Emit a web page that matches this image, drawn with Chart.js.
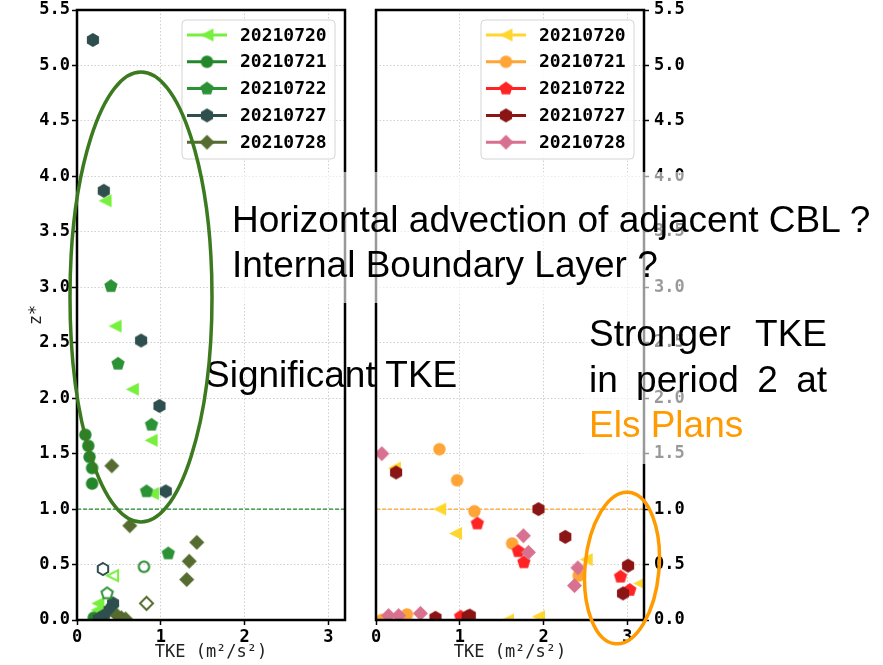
<!DOCTYPE html>
<html>
<head>
<meta charset="utf-8">
<script src="https://cdn.jsdelivr.net/npm/chart.js@4.4.0/dist/chart.umd.min.js"></script>
<style>
  body { margin: 0; background: #fff; }
  #wrap { position: relative; width: 883px; height: 665px; overflow: hidden; }
  canvas { position: absolute; top: 0; }
  #cl { left: 0; }
  #cr { left: 360px; }
  .veil { position: absolute; background: rgba(255, 255, 255, 0.6); }
  .note { position: absolute; font-family: "Liberation Sans", Arial, sans-serif; color: #000; white-space: nowrap; line-height: 1; }
  .just { text-align: justify; text-align-last: justify; width: 238px; white-space: normal; }
  svg { position: absolute; left: 0; top: 0; }
</style>
</head>
<body>
<div id="wrap">
  <canvas id="cl" width="360" height="665"></canvas>
  <canvas id="cr" width="360" height="665"></canvas>

  <div class="veil" style="left:228px;top:172px;width:655px;height:131px"></div>
  <div class="veil" style="left:583px;top:303px;width:300px;height:161px"></div>

  <div class="note" style="left:232px;top:201px;font-size:37px">Horizontal advection of adjacent CBL ?</div>
  <div class="note" style="left:232px;top:246px;font-size:37px">Internal Boundary Layer ?</div>
  <div class="note" style="left:205px;top:356px;font-size:37px">Significant TKE</div>
  <div class="note just" style="left:589px;top:315px;font-size:37px">Stronger TKE</div>
  <div class="note just" style="left:589px;top:361px;font-size:37px">in period 2 at</div>
  <div class="note" style="left:589px;top:406px;font-size:37px;color:#ff9a00">Els Plans</div>

  <svg width="883" height="665">
    <ellipse cx="141" cy="297" rx="71" ry="225" fill="none" stroke="#3c7a1f" stroke-width="3.5"/>
    <ellipse cx="622" cy="568" rx="37" ry="76" fill="none" stroke="#ff9a00" stroke-width="3.5" transform="rotate(5 622 568)"/>
  </svg>
</div>

<script>
// series names and marker kinds (same order in both panels)
const dates = ['20210720', '20210721', '20210722', '20210727', '20210728'];
const markers = ['triangleLeft', 'circle', 'pentagon', 'hexagon', 'diamond'];
const greenColors = ['#76f03c', '#24862a', '#2c9236', '#2f4f4f', '#556b2f'];
const warmColors = ['#ffd62e', '#ffa436', '#ff2424', '#8b1414', '#d8708f'];

// left panel, [TKE, z*]
const left0720 = [[0.335, 3.78], [0.455, 2.65], [0.66, 2.08], [0.885, 1.62], [0.90, 1.14], [0.25, 0.15], [0.24, 0.09], [0.27, 0.03]];
const left0721 = [[0.10, 1.67], [0.135, 1.57], [0.15, 1.47], [0.18, 1.37], [0.18, 1.23], [0.20, 0.02], [0.28, 0.01]];
const left0722 = [[0.405, 3.01], [0.49, 2.31], [0.89, 1.76], [0.83, 1.16], [1.09, 0.60], [0.42, 0.12], [0.30, 0.02]];
const left0727 = [[0.19, 5.23], [0.32, 3.87], [0.765, 2.52], [0.985, 1.93], [1.06, 1.16], [0.43, 0.15], [0.39, 0.09], [0.32, 0.04], [0.26, 0.01]];
const left0728 = [[0.415, 1.39], [0.63, 0.85], [1.43, 0.70], [1.34, 0.53], [1.31, 0.365], [0.48, 0.04], [0.53, 0.02], [0.58, 0.01]];
// open markers of the left panel, one per date
const leftOpen = [[0.425, 0.40], [0.80, 0.48], [0.36, 0.24], [0.31, 0.46], [0.83, 0.15]];

// right panel, [TKE, z*]
const right0720 = [[0.22, 1.37], [0.76, 1.00], [0.95, 0.78], [2.51, 0.545], [3.15, 0.33], [1.57, 0.0], [1.94, 0.03]];
const right0721 = [[0.757, 1.54], [0.968, 1.26], [1.175, 0.98], [1.625, 0.69], [2.42, 0.40], [0.07, 0.0], [0.37, 0.05]];
const right0722 = [[1.21, 0.87], [1.70, 0.62], [1.765, 0.52], [2.92, 0.39], [3.03, 0.27], [1.01, 0.03]];
const right0727 = [[0.24, 1.33], [1.94, 1.00], [2.26, 0.75], [3.01, 0.49], [2.95, 0.24], [1.095, 0.03], [0.71, 0.02], [1.12, 0.04]];
const right0728 = [[0.07, 1.50], [1.76, 0.76], [1.82, 0.61], [2.41, 0.47], [2.37, 0.31], [0.15, 0.04], [0.27, 0.04], [0.53, 0.06]];

const refZ = 1.0;
const xMax = 3.2;
const xTicks = [0, 1, 2, 3];
const yTicks = [0, 0.5, 1, 1.5, 2, 2.5, 3, 3.5, 4, 4.5, 5, 5.5];

Chart.defaults.font.family = "'DejaVu Sans Mono', monospace";

const markerSize = { triangleLeft: 6.5, circle: 6.2, pentagon: 7, hexagon: 7, diamond: 7.5 };

function markerPath(ctx, kind, r) {
  ctx.beginPath();
  if (kind === 'circle') {
    ctx.arc(0, 0, r, 0, Math.PI * 2);
  } else if (kind === 'triangleLeft') {
    ctx.moveTo(-r, 0);
    ctx.lineTo(r, -r);
    ctx.lineTo(r, r);
  } else {
    const n = kind === 'pentagon' ? 5 : kind === 'hexagon' ? 6 : 4;
    for (let i = 0; i < n; i++) {
      const a = -Math.PI / 2 + i * 2 * Math.PI / n;
      ctx.lineTo(r * Math.cos(a), r * Math.sin(a));
    }
  }
  ctx.closePath();
}

function makeMarker(kind, color, open) {
  const r = markerSize[kind];
  const s = Math.ceil(2 * r + 4);
  const c = document.createElement('canvas');
  c.width = s;
  c.height = s;
  const ctx = c.getContext('2d');
  ctx.translate(s / 2, s / 2);
  if (open) {
    markerPath(ctx, kind, r - 1);
    ctx.strokeStyle = color;
    ctx.lineWidth = 2;
    ctx.stroke();
  } else {
    markerPath(ctx, kind, r);
    ctx.fillStyle = color;
    ctx.fill();
  }
  return c;
}

const toXY = (pairs) => pairs.map(p => ({ x: p[0], y: p[1] }));

const frame = {
  id: 'frame',
  afterDatasetsDraw(chart) {
    const a = chart.chartArea;
    const ctx = chart.ctx;
    ctx.save();
    ctx.strokeStyle = '#000';
    ctx.lineWidth = 2.5;
    ctx.strokeRect(a.left, a.top, a.right - a.left, a.bottom - a.top);
    ctx.restore();
  }
};

const boxLegend = {
  id: 'boxLegend',
  afterDraw(chart, args, opts) {
    const { ctx, chartArea } = chart;
    const left = chartArea.right - 163;
    const top = chartArea.top + 10;
    const w = 153, h = 139;
    ctx.save();
    ctx.beginPath();
    ctx.roundRect(left, top, w, h, 4);
    ctx.fillStyle = 'rgba(255,255,255,0.85)';
    ctx.fill();
    ctx.strokeStyle = '#d4d4d4';
    ctx.lineWidth = 1;
    ctx.stroke();
    ctx.font = "bold 18px 'DejaVu Sans Mono', monospace";
    ctx.textBaseline = 'middle';
    dates.forEach((d, i) => {
      const y = top + 15 + i * 26.8;
      ctx.strokeStyle = opts.colors[i];
      ctx.lineWidth = 3;
      ctx.beginPath();
      ctx.moveTo(left + 5, y);
      ctx.lineTo(left + 45, y);
      ctx.stroke();
      const m = opts.icons[i];
      ctx.drawImage(m, left + 25 - m.width / 2, y - m.height / 2);
      ctx.fillStyle = '#000';
      ctx.fillText(d, left + 58, y + 1);
    });
    ctx.restore();
  }
};

function buildChart(id, series, openPts, colors, refColor, side) {
  const icons = markers.map((k, i) => makeMarker(k, colors[i], false));
  const datasets = [{
    type: 'line',
    data: [{ x: 0, y: refZ }, { x: xMax, y: refZ }],
    borderColor: refColor,
    borderWidth: 1.3,
    borderDash: [4, 2],
    pointRadius: 0,
    order: 30
  }];
  series.forEach((pts, i) => {
    datasets.push({
      label: dates[i],
      data: toXY(pts),
      pointStyle: icons[i],
      order: 20 - i
    });
  });
  if (openPts) {
    openPts.forEach((p, i) => {
      datasets.push({
        label: dates[i] + ' open',
        data: toXY([p]),
        pointStyle: makeMarker(markers[i], colors[i], true),
        order: 10 - i
      });
    });
  }

  const tickFont = { size: 17, weight: 'bold' };
  // small lineHeight only keeps the top tick label from pushing the plot area down
  const yTickFont = { size: 17, weight: 'bold', lineHeight: side === 'left' ? 0.9 : 0.55 };
  const grid = { color: '#cfcfcf', lineWidth: 1, tickLength: 5, tickColor: '#000', tickWidth: 1.5, tickBorderDash: [] };

  return new Chart(document.getElementById(id), {
    type: 'scatter',
    data: { datasets: datasets },
    plugins: [frame, boxLegend],
    options: {
      responsive: false,
      animation: false,
      events: [],
      layout: { padding: side === 'left' ? { top: 10, right: 15, left: 0, bottom: 0 } : { top: 10, right: 0, left: 16, bottom: 0 } },
      plugins: {
        legend: { display: false },
        tooltip: { enabled: false },
        boxLegend: { colors: colors, icons: icons }
      },
      scales: {
        x: {
          type: 'linear',
          min: 0,
          max: xMax,
          afterBuildTicks: (s) => { s.ticks = xTicks.map(v => ({ value: v })); },
          afterFit: (s) => { s.height = 45; },
          ticks: { font: tickFont, color: '#000', padding: 2, maxRotation: 0, callback: (v) => String(v) },
          grid: grid,
          border: { display: false, dash: [1.5, 2] },
          title: { display: true, text: 'TKE (m²/s²)', font: { size: 17 }, color: '#222', padding: { top: 0, bottom: 2 } }
        },
        y: {
          type: 'linear',
          position: side,
          min: 0,
          max: 5.5,
          afterBuildTicks: (s) => { s.ticks = yTicks.map(v => ({ value: v })); },
          afterFit: (s) => { s.width = side === 'left' ? 77 : 76; },
          ticks: { font: yTickFont, color: '#000', padding: side === 'left' ? 2 : 5, callback: (v) => v.toFixed(1) },
          grid: grid,
          border: { display: false, dash: [1.5, 2] },
          title: side === 'left'
            ? { display: true, text: 'z*', font: { size: 17 }, color: '#222', padding: { top: 26, bottom: 0 } }
            : { display: false }
        }
      }
    }
  });
}

buildChart('cl', [left0720, left0721, left0722, left0727, left0728], leftOpen, greenColors, '#1f8a2a', 'left');
buildChart('cr', [right0720, right0721, right0722, right0727, right0728], null, warmColors, '#ffa52e', 'right');
</script>
</body>
</html>
